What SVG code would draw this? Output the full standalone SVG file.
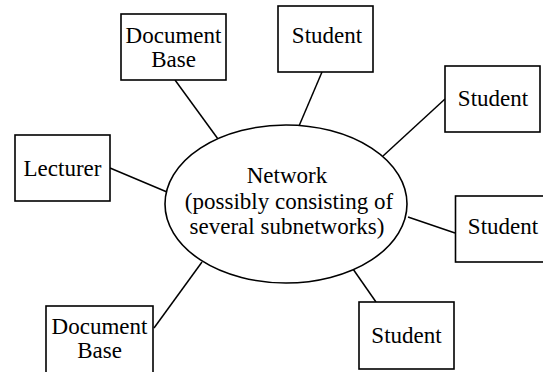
<svg xmlns="http://www.w3.org/2000/svg" width="543" height="372" viewBox="0 0 543 372">
<style>
  .box { fill: #fff; stroke: #000; stroke-width: 1.6; }
  .net { fill: #fff; stroke: #000; stroke-width: 1.6; }
  .t { font-family: "Liberation Serif", "Times New Roman", serif; font-size: 23px; fill: #000; text-anchor: middle; }
  #connectors line { stroke: #000; stroke-width: 1.5; }
</style>
<rect width="543" height="372" fill="#fff"/>
<g id="connectors">
  <line x1="175" y1="80" x2="218" y2="139"/>
  <line x1="110" y1="168" x2="167" y2="192"/>
  <line x1="322" y1="72" x2="299" y2="126"/>
  <line x1="445" y1="99" x2="383" y2="156"/>
  <line x1="408" y1="217" x2="455" y2="233"/>
  <line x1="353" y1="269" x2="376" y2="302"/>
  <line x1="202" y1="262" x2="154" y2="328"/>
</g>
<g id="network">
  <ellipse class="net" cx="286" cy="204" rx="121" ry="79"/>
  <text class="t" x="287" y="183">Network</text>
  <text class="t" x="289" y="209">(possibly consisting of</text>
  <text class="t" x="287" y="234">several subnetworks)</text>
</g>
<g id="docbase-top">
  <rect class="box" x="121" y="14" width="105" height="66"/>
  <text class="t" x="173.5" y="43">Document</text>
  <text class="t" x="173.5" y="67">Base</text>
</g>
<g id="lecturer">
  <rect class="box" x="15" y="135" width="95" height="66"/>
  <text class="t" x="62.5" y="176">Lecturer</text>
</g>
<g id="student-top">
  <rect class="box" x="278" y="6" width="95" height="66"/>
  <text class="t" x="327" y="43">Student</text>
</g>
<g id="student-upper-right">
  <rect class="box" x="445" y="66" width="95" height="66"/>
  <text class="t" x="493" y="106">Student</text>
</g>
<g id="student-right">
  <rect class="box" x="455.5" y="196" width="95" height="66"/>
  <text class="t" x="503" y="234">Student</text>
</g>
<g id="student-bottom">
  <rect class="box" x="359" y="302" width="95" height="67"/>
  <text class="t" x="406.5" y="343">Student</text>
</g>
<g id="docbase-bottom">
  <rect class="box" x="46" y="306" width="107" height="70"/>
  <text class="t" x="99.5" y="334">Document</text>
  <text class="t" x="99.5" y="358">Base</text>
</g>
</svg>
